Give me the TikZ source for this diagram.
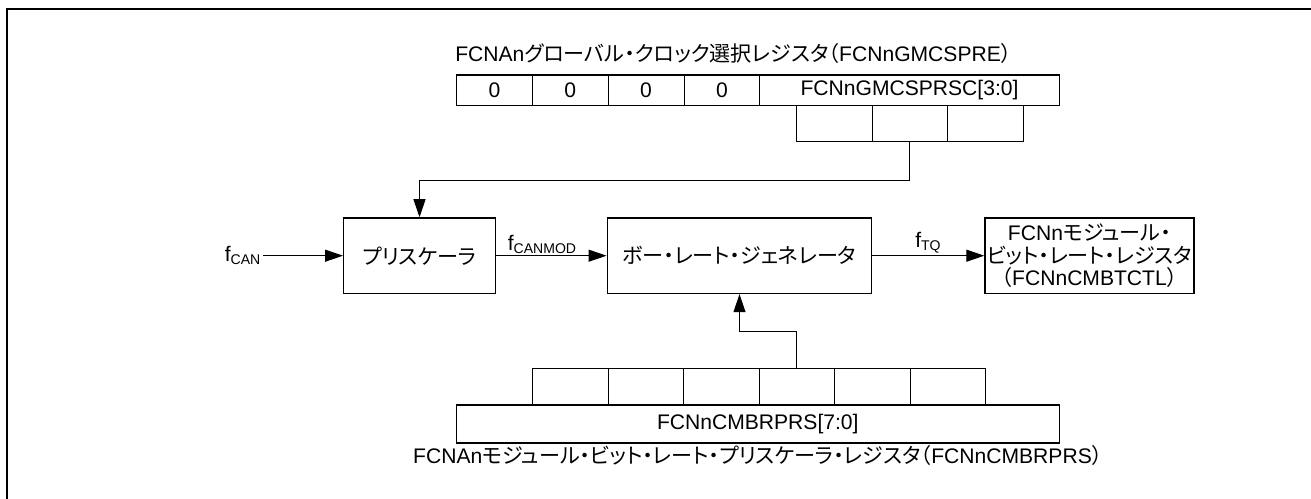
\documentclass[tikz,border=0pt]{standalone}
\usepackage{fontspec}
\setmainfont{Liberation Sans}
\newfontfamily\jp[RawFeature=+palt]{Noto Sans CJK JP}
\usetikzlibrary{arrows.meta,positioning}
\newcommand{\ja}[1]{{\jp #1}}

\begin{document}
\begin{tikzpicture}[x=.2mm,y=-.2mm,line width=.6pt,font=\fontsize{12}{13}\selectfont,
 every node/.style={inner sep=1pt},>={Triangle[length=3.6mm,width=2.4mm]},
 blk/.style={draw,line width=.8pt,minimum height=15.1mm},
 cell/.style={draw,line width=.45pt,minimum width=15.16mm,minimum height=6mm},
 sub/.style={draw,line width=.45pt,minimum width=15.1mm,minimum height=7.34mm}]
\useasboundingbox (0,0) rectangle (1311,499);
\draw[line width=1.5pt] (7,499) -- (7,9) -- (1311,9);

% global clock select register
\node[anchor=west] (gtitle) at (453,53) {FCNAn\ja{グローバル・クロック選択レジスタ（}FCNnGMCSPRE\ja{）}};
\foreach \i in {0,...,3}{\node[cell] (g\i) at ({494.5+75.8*\i},90) {0};}
\node[cell,minimum width=59.94mm] (gsc) at (909.5,90) {FCNnGMCSPRSC[3:0]};
\draw[line width=.8pt] (g0.north west) rectangle (gsc.south east);
\foreach \i in {1,2,3}{\node[sub] (gs\i) at ({796.7+75.4*(\i-.5)},123.3) {};}

% clock path
\node[blk,minimum width=30.3mm] (pre) at (419.5,255.7) {\ja{プリスケーラ}};
\node[blk,minimum width=52.9mm] (brg) at (739.5,255.7) {\ja{ボー・レート・ジェネレータ}};
\node[blk,minimum width=41.8mm,align=center] (btr) at (1089.5,255.7)
 {FCNn\ja{モジュール・}\\\ja{ビット・レート・レジスタ}\\\ja{（}FCNnCMBTCTL\ja{）}};
\node (fcan) at (243,255.7) {f\textsubscript{CAN}};
\draw[->] (fcan) -- (pre);
\draw[->] (pre) -- node[above,pos=.42] (fmod) {f\textsubscript{CANMOD}} (brg);
\draw[->] (brg) -- node[above] (ftq) {f\textsubscript{TQ}} (btr);
\draw[->] (gs2.south) -- ++(0,38.3) -| (pre.north);

% module bit rate prescaler register
\foreach \i in {1,...,6}{\node[sub] (bs\i) at ({532.7+75.5*(\i-.5)},386.7) {};}
\node[draw,line width=.8pt,minimum width=120.6mm,minimum height=7.6mm] (bsc) at (757.8,424) {FCNnCMBRPRS[7:0]};
\node (btitle) at (757.8,455) {FCNAn\ja{モジュール・ビット・レート・プリスケーラ・レジスタ（}FCNnCMBRPRS\ja{）}};
\draw[->] (bs4.north) -- ++(0,-36.6) -| (brg.south);
\end{tikzpicture}
\end{document}
